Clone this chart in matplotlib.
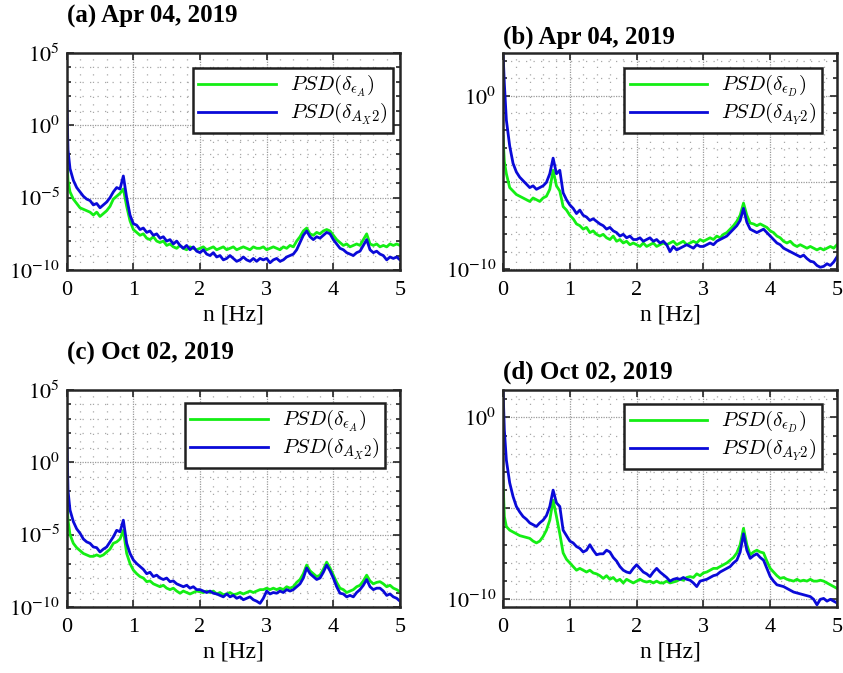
import numpy as np
import matplotlib
matplotlib.use("Agg")
import matplotlib.pyplot as plt
from matplotlib.ticker import FixedLocator, FixedFormatter, MultipleLocator, NullFormatter

plt.rcParams["font.family"] = ["Liberation Serif", "DejaVu Serif"]
plt.rcParams["mathtext.fontset"] = "stix"

# frequency axis of the PSD estimates [Hz]
FREQ = np.concatenate([[0.0, 0.02], np.arange(1, 101) * 0.05])

# log10 of PSD values
A_GREEN = [-2.0, -3.8, -4.6, -5.1, -5.4, -5.7, -5.8, -5.9, -6.0, -6.2,
           -6.0, -6.3, -6.1, -5.9, -5.6, -5.1, -4.9, -4.7, -4.4, -5.6,
           -6.6, -7.2, -7.4, -7.6, -7.5, -7.8, -7.9, -7.7, -8.0, -8.1,
           -8.0, -8.3, -8.2, -8.4, -8.5, -8.3, -8.5, -8.6, -8.4, -8.5,
           -8.6, -8.5, -8.4, -8.6, -8.5, -8.4, -8.6, -8.5, -8.4, -8.6,
           -8.5, -8.4, -8.6, -8.5, -8.4, -8.5, -8.6, -8.4, -8.5, -8.5,
           -8.4, -8.6, -8.5, -8.4, -8.5, -8.6, -8.4, -8.5, -8.3, -8.4,
           -8.0, -7.7, -7.3, -7.1, -7.5, -7.6, -7.4, -7.5, -7.3, -7.2,
           -7.3, -7.6, -7.9, -8.1, -8.3, -8.2, -8.4, -8.3, -8.2, -8.3,
           -7.9, -7.5, -8.2, -8.3, -8.2, -8.4, -8.3, -8.4, -8.2, -8.3,
           -8.2, -8.3]
A_BLUE = [2.1, -1.7, -3.0, -3.8, -4.3, -4.6, -4.9, -5.1, -5.2, -5.5,
          -5.4, -5.7, -5.5, -5.3, -5.0, -4.6, -4.3, -4.4, -3.5, -5.0,
          -6.2, -6.8, -6.9, -7.2, -7.1, -7.4, -7.3, -7.6, -7.5, -7.8,
          -7.7, -8.0, -7.9, -8.2, -8.0, -8.3, -8.5, -8.3, -8.6, -8.4,
          -8.7, -8.8, -8.6, -8.9, -9.0, -8.8, -9.1, -9.0, -9.3, -9.2,
          -9.0, -9.2, -9.4, -9.3, -9.1, -9.3, -9.4, -9.2, -9.4, -9.2,
          -9.3, -9.2, -9.5, -9.3, -9.2, -9.4, -9.3, -9.1, -9.0, -8.9,
          -8.6, -8.1, -7.6, -7.3, -7.7, -7.9, -7.7, -7.8, -7.6, -7.4,
          -7.5, -7.9, -8.2, -8.5, -8.6, -8.8, -8.9, -9.0, -8.8, -8.7,
          -8.3, -7.9, -8.6, -8.8, -8.7, -8.9, -9.0, -9.3, -9.1, -9.2,
          -9.1, -9.3]

B_GREEN = [-2.35, -3.8, -4.5, -5.3, -5.5, -5.7, -5.8, -5.9, -6.0, -6.1,
           -5.9, -6.0, -6.1, -5.9, -5.8, -5.4, -4.3, -5.2, -5.5, -6.4,
           -6.6, -6.9, -7.1, -7.4, -7.5, -7.7, -7.6, -7.9, -7.8, -8.0,
           -8.1, -8.0, -8.2, -8.3, -8.1, -8.4, -8.3, -8.5, -8.4, -8.6,
           -8.5, -8.6, -8.7, -8.5, -8.7, -8.6, -8.5, -8.7, -8.6, -8.5,
           -8.6, -8.5, -8.4, -8.6, -8.5, -8.4, -8.6, -8.5, -8.4, -8.5,
           -8.3, -8.4, -8.3, -8.2, -8.3, -8.1, -8.2, -8.0, -7.9, -7.7,
           -7.5, -7.25, -6.9, -6.2, -6.9, -7.35, -7.4, -7.5, -7.4, -7.5,
           -7.6, -7.8, -7.9, -8.1, -8.2, -8.4, -8.5, -8.4, -8.6, -8.7,
           -8.6, -8.7, -8.8, -8.7, -8.8, -8.9, -8.8, -8.9, -8.8, -8.7,
           -8.8, -8.6]
B_BLUE = [2.5, 0.7, -1.4, -2.9, -3.9, -4.4, -4.7, -4.9, -5.1, -5.3,
          -5.2, -5.4, -5.3, -5.2, -5.0, -4.5, -3.6, -4.5, -4.3, -5.6,
          -6.0, -6.3, -6.5, -6.8, -6.6, -6.9, -7.0, -7.2, -7.1, -7.25,
          -7.4, -7.5, -7.7, -7.6, -7.8, -7.9, -8.1, -8.0, -8.2, -8.1,
          -8.3, -8.3, -8.2, -8.4, -8.3, -8.2, -8.4, -8.3, -8.5, -8.4,
          -8.6, -9.0, -8.7, -8.9, -8.8, -8.7, -8.6, -8.7, -8.8, -8.6,
          -8.7, -8.7, -8.6, -8.5, -8.6, -8.4, -8.3, -8.2, -8.1, -7.9,
          -7.7, -7.5, -7.2, -6.5, -7.3, -7.7, -7.8, -7.9, -7.8, -7.7,
          -7.9, -8.1, -8.3, -8.5, -8.6, -8.8, -8.9, -9.0, -9.1, -9.2,
          -9.3, -9.2, -9.4, -9.55, -9.6, -9.8, -9.9, -9.85, -9.7, -9.8,
          -9.6, -9.3]

C_GREEN = [-2.3, -4.0, -5.0, -5.6, -5.9, -6.1, -6.3, -6.4, -6.5, -6.5,
           -6.4, -6.5, -6.4, -6.2, -6.0, -5.6, -5.5, -5.3, -4.7, -6.3,
           -7.0, -7.45, -7.7, -7.9, -8.0, -8.25, -8.2, -8.4, -8.5, -8.6,
           -8.5, -8.7, -8.8, -8.7, -8.9, -9.05, -8.9, -9.0, -9.1, -9.0,
           -8.9, -8.95, -9.0, -8.9, -9.0, -8.9, -9.1, -9.0, -9.15, -9.1,
           -9.0, -9.15, -9.1, -9.0, -9.1, -9.0, -8.9, -9.0, -8.9, -8.8,
           -8.8, -8.7, -8.8, -8.7, -8.8, -8.7, -8.8, -8.6, -8.7, -8.6,
           -8.3, -8.1, -7.7, -7.1, -7.5, -7.7, -7.9, -7.8, -7.4, -6.9,
           -7.3, -7.8, -8.3, -8.7, -8.8, -9.0, -8.9, -8.8, -8.6, -8.5,
           -8.2, -7.8, -8.2, -8.4, -8.3, -8.25, -8.4, -8.6, -8.5, -8.7,
           -8.8, -8.95]
C_BLUE = [2.3, -1.95, -3.3, -4.1, -4.6, -4.9, -5.3, -5.5, -5.6, -5.85,
          -5.9, -6.2, -6.0, -5.85, -5.5, -5.15, -4.7, -4.8, -4.0, -5.6,
          -6.3, -6.75, -7.0, -7.2, -7.4, -7.7, -7.6, -7.9, -7.8, -8.0,
          -8.1, -8.0, -8.25, -8.2, -8.4, -8.5, -8.6, -8.5, -8.7, -8.6,
          -8.8, -8.8, -8.9, -9.0, -8.9, -9.05, -9.1, -9.2, -9.3, -9.1,
          -9.3, -9.2, -9.4, -9.3, -9.5, -9.4, -9.3, -9.5, -9.6, -9.75,
          -9.4, -8.9, -9.1, -9.0, -9.05, -8.9, -9.0, -8.8, -8.9, -8.8,
          -8.6, -8.4, -8.0, -7.3, -7.7, -7.9, -8.1, -8.0, -7.6, -7.1,
          -7.5, -8.0, -8.6, -9.05, -9.1, -9.3, -9.2, -9.3, -9.0, -8.8,
          -8.5, -8.1, -8.6, -8.8, -8.7, -8.7, -8.9, -9.2, -9.1, -9.3,
          -9.4, -9.6]

D_GREEN = [-3.5, -5.45, -6.0, -6.2, -6.3, -6.4, -6.5, -6.55, -6.6, -6.65,
           -6.8, -6.9, -6.8, -6.55, -6.2, -5.65, -4.55, -5.45, -6.4, -7.45,
           -7.8, -8.0, -8.2, -8.4, -8.3, -8.4, -8.5, -8.4, -8.55, -8.6,
           -8.7, -8.85, -8.7, -8.9, -8.8, -9.0, -8.9, -9.1, -8.9, -9.0,
           -9.1, -9.0, -8.9, -9.0, -9.05, -9.0, -9.1, -9.0, -9.1, -9.1,
           -9.0, -9.1, -9.05, -9.0, -8.9, -8.95, -8.8, -8.75, -8.8, -8.6,
           -8.7, -8.55, -8.5, -8.4, -8.3, -8.3, -8.2, -8.1, -8.0, -7.85,
           -7.7, -7.45, -7.0, -6.1, -7.0, -7.55, -7.4, -7.3, -7.4, -7.45,
           -7.9, -8.3, -8.5, -8.7, -8.85, -8.8, -8.9, -8.95, -9.0, -8.9,
           -9.0, -8.95, -9.0, -8.9, -9.0, -9.0, -8.95, -9.0, -9.1, -9.2,
           -9.3, -9.4]
D_BLUE = [1.6, -0.7, -2.35, -3.6, -4.35, -4.9, -5.2, -5.45, -5.6, -5.8,
          -5.9, -6.0, -5.8, -5.65, -5.4, -4.9, -4.0, -4.7, -4.9, -6.2,
          -6.5, -6.8, -6.9, -7.1, -7.2, -7.4, -7.3, -7.0, -7.3, -7.55,
          -7.5, -7.5, -7.3, -7.4, -7.7, -7.9, -8.2, -8.4, -8.5, -8.55,
          -8.3, -8.1, -8.3, -8.5, -8.6, -8.75, -8.5, -8.3, -8.5, -8.65,
          -8.8, -9.0, -8.9, -8.85, -8.9, -8.8, -8.9, -8.95, -9.1, -9.3,
          -9.0, -8.95, -8.9, -8.8, -8.7, -8.65, -8.5, -8.4, -8.3, -8.2,
          -8.0, -7.85, -7.4, -6.4, -7.3, -7.75, -7.6, -7.5, -7.7, -7.85,
          -8.3, -8.75, -9.0, -9.2, -9.25, -9.3, -9.4, -9.5, -9.6, -9.65,
          -9.7, -9.75, -9.8, -9.85, -10.0, -10.3, -10.0, -9.95, -10.1, -10.0,
          -10.1, -10.2]

TITLES = ["(a) Apr 04, 2019", "(b) Apr 04, 2019", "(c) Oct 02, 2019", "(d) Oct 02, 2019"]
GREEN_LABELS = [r"$PSD(\delta_{\epsilon_A})$", r"$PSD(\delta_{\epsilon_D})$",
                r"$PSD(\delta_{\epsilon_A})$", r"$PSD(\delta_{\epsilon_D})$"]
BLUE_LABELS = [r"$PSD(\delta_{A_X2})$", r"$PSD(\delta_{A_Y2})$",
               r"$PSD(\delta_{A_X2})$", r"$PSD(\delta_{A_Y2})$"]
GREEN_SERIES = [A_GREEN, B_GREEN, C_GREEN, D_GREEN]
BLUE_SERIES = [A_BLUE, B_BLUE, C_BLUE, D_BLUE]

GREEN = "#14ee14"
BLUE = "#0a0ad8"

# layout: [left, bottom, width, height], ylim exponents, major ticks, labels, legend anchor, title y
PANELS = [
    dict(rect=[0.0791, 0.5988, 0.3954, 0.3224], ylim=(-10, 5),
         majors=[-10, -5, 0, 5], shown=[-10, -5, 0, 5], anchor=(0.979, 0.931), ty=0.975),
    dict(rect=[0.5967, 0.5988, 0.3962, 0.3224], ylim=(-10.06, 2.47),
         majors=[-10, -5, 0], shown=[-10, 0], anchor=(0.954, 0.931), ty=0.945),
    dict(rect=[0.0791, 0.0981, 0.3954, 0.3224], ylim=(-10, 5),
         majors=[-10, -5, 0, 5], shown=[-10, -5, 0, 5], anchor=(0.955, 0.940), ty=0.475),
    dict(rect=[0.5967, 0.0981, 0.3962, 0.3224], ylim=(-10.42, 1.5),
         majors=[-10, -5, 0], shown=[-10, 0], anchor=(0.954, 0.935), ty=0.447),
]


def draw_panel(fig, i):
    p = PANELS[i]
    ax = fig.add_axes(p["rect"])
    ax.plot(FREQ, 10.0 ** np.array(GREEN_SERIES[i]), color=GREEN, lw=2.0, label=GREEN_LABELS[i])
    ax.plot(FREQ, 10.0 ** np.array(BLUE_SERIES[i]), color=BLUE, lw=2.0, label=BLUE_LABELS[i])
    ax.set_yscale("log")
    ax.set_xlim(0, 5)
    ax.set_ylim(10.0 ** p["ylim"][0], 10.0 ** p["ylim"][1])

    ax.xaxis.set_major_locator(MultipleLocator(1))
    ax.xaxis.set_minor_locator(MultipleLocator(0.2))
    ax.yaxis.set_major_locator(FixedLocator([10.0 ** k for k in p["majors"]]))
    ax.yaxis.set_major_formatter(FixedFormatter(
        [r"$10^{%d}$" % k if k in p["shown"] else "" for k in p["majors"]]))
    ax.yaxis.set_minor_locator(FixedLocator([10.0 ** k for k in range(-11, 6) if k % 5 != 0]))
    ax.yaxis.set_minor_formatter(NullFormatter())

    ax.tick_params(which="both", direction="in", top=True, right=True, labelsize=16,
                   width=1.2, color="#262626")
    ax.tick_params(which="major", length=5)
    ax.tick_params(axis="x", which="major", pad=8)
    ax.tick_params(axis="y", which="major", pad=5)
    ax.tick_params(axis="y", which="minor", length=3)
    ax.tick_params(axis="x", which="minor", length=0)

    ax.grid(True, which="major", color="#9a9a9a", linestyle=(0, (1, 1)), lw=0.9)
    ax.grid(True, which="minor", color="#a8a8a8", linestyle=(0, (1, 5)), lw=0.9)
    for s in ax.spines.values():
        s.set_linewidth(1.8)
        s.set_color("#262626")

    ax.set_xlabel("n [Hz]", fontsize=17, labelpad=3)

    leg = ax.legend(loc="upper right", bbox_to_anchor=p["anchor"], fontsize=15,
                    handlelength=3.7, fancybox=False, framealpha=1, edgecolor="#202020",
                    borderpad=0.25, labelspacing=0.1, handletextpad=0.7, borderaxespad=0)
    leg.get_frame().set_linewidth(1.8)
    for t in leg.get_texts():
        t.set_math_fontfamily("cm")

    fig.text(p["rect"][0], p["ty"], TITLES[i], fontsize=18, fontweight="bold",
             ha="left", va="center")


fig = plt.figure(figsize=(8.43, 6.73), dpi=100)
for i in range(4):
    draw_panel(fig, i)

fig.savefig("out.png", dpi=100)
